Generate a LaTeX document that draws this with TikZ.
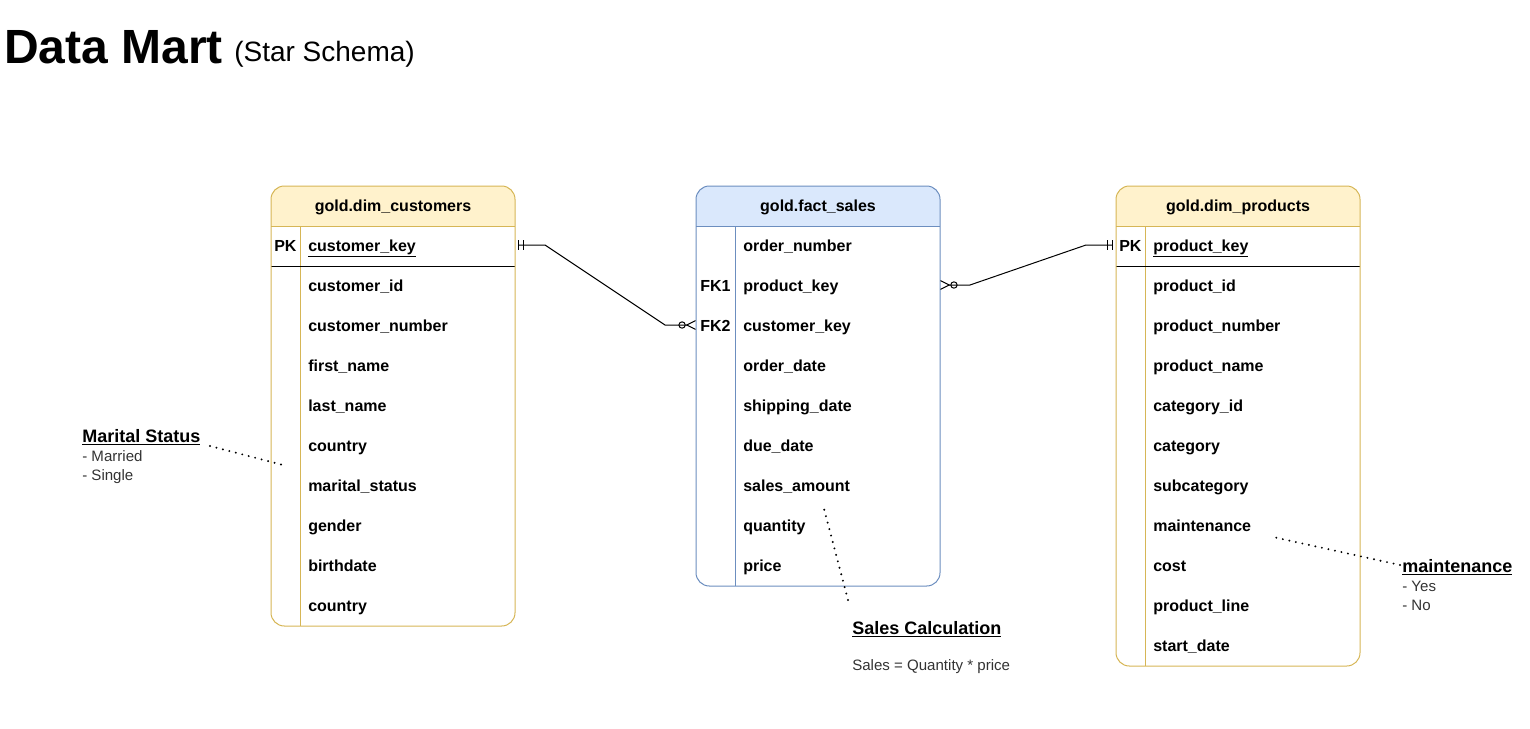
\documentclass[tikz,border=0pt]{standalone}
\usepackage{fontspec}
\setmainfont{Liberation Sans}
\usetikzlibrary{arrows.meta,calc}

\definecolor{dimfill}{HTML}{FFF2CC}
\definecolor{dimline}{HTML}{D6B656}
\definecolor{factfill}{HTML}{DAE8FC}
\definecolor{factline}{HTML}{6C8EBF}

\begin{document}
\begin{tikzpicture}[x=0.75pt, y=-0.75pt,
  fld/.style={anchor=base west, inner sep=0pt, font=\fontsize{12}{14}\selectfont\bfseries},
  hdr/.style={anchor=base, inner sep=0pt, font=\fontsize{12}{14}\selectfont\bfseries},
  notehead/.style={anchor=base west, inner sep=0pt, font=\fontsize{13.5}{16}\selectfont\bfseries},
  notetext/.style={anchor=base west, inner sep=0pt, font=\fontsize{11.3}{14}\selectfont, text=black!80},
  rel/.style={line width=0.75pt},
  notelink/.style={line width=1.6pt, line cap=round, dash pattern=on 0pt off 5pt}]
\useasboundingbox (0,0) rectangle (1530,728);

% title
\node[anchor=base west, inner sep=0pt, font=\fontsize{36}{40}\selectfont\bfseries] (title) at (4,63) {Data Mart};
\node[anchor=base west, inner sep=0pt, font=\fontsize{21}{24}\selectfont] (subtitle) at (234,61) {(Star Schema)};

% gold.dim_customers
\begin{scope}
\clip[rounded corners=10] (271,186) rectangle (515,626);
\fill[dimfill] (271,186) rectangle (515,226);
\end{scope}
\draw[dimline, line width=0.75pt] (271,226) -- (515,226);
\draw[dimline, line width=0.75pt] (300,226) -- (300,626);
\draw[black, line width=0.75pt] (271,266) -- (515,266);
\draw[dimline, line width=0.75pt, rounded corners=10] (271,186) rectangle (515,626);
\node[hdr] (custhead) at (393,211) {gold.dim\_customers};
\node[fld] (custpk) at (274,251) {PK};
\node[fld] (cust1) at (308,251) {\underline{customer\_key}};
\node[fld] (cust2) at (308,291) {customer\_id};
\node[fld] (cust3) at (308,331) {customer\_number};
\node[fld] (cust4) at (308,371) {first\_name};
\node[fld] (cust5) at (308,411) {last\_name};
\node[fld] (cust6) at (308,451) {country};
\node[fld] (cust7) at (308,491) {marital\_status};
\node[fld] (cust8) at (308,531) {gender};
\node[fld] (cust9) at (308,571) {birthdate};
\node[fld] (cust10) at (308,611) {country};
\coordinate (custport) at (515,245);

% gold.fact_sales
\begin{scope}
\clip[rounded corners=10] (696,186) rectangle (940,586);
\fill[factfill] (696,186) rectangle (940,226);
\end{scope}
\draw[factline, line width=0.75pt] (696,226) -- (940,226);
\draw[factline, line width=0.75pt] (735,226) -- (735,586);
\draw[factline, line width=0.75pt, rounded corners=10] (696,186) rectangle (940,586);
\node[hdr] (facthead) at (818,211) {gold.fact\_sales};
\node[fld] (factfk1) at (700,291) {FK1};
\node[fld] (factfk2) at (700,331) {FK2};
\node[fld] (fact1) at (743,251) {order\_number};
\node[fld] (fact2) at (743,291) {product\_key};
\node[fld] (fact3) at (743,331) {customer\_key};
\node[fld] (fact4) at (743,371) {order\_date};
\node[fld] (fact5) at (743,411) {shipping\_date};
\node[fld] (fact6) at (743,451) {due\_date};
\node[fld] (fact7) at (743,491) {sales\_amount};
\node[fld] (fact8) at (743,531) {quantity};
\node[fld] (fact9) at (743,571) {price};
\coordinate (factcust) at (696,325);
\coordinate (factprod) at (940,285);

% gold.dim_products
\begin{scope}
\clip[rounded corners=10] (1116,186) rectangle (1360,666);
\fill[dimfill] (1116,186) rectangle (1360,226);
\end{scope}
\draw[dimline, line width=0.75pt] (1116,226) -- (1360,226);
\draw[dimline, line width=0.75pt] (1145,226) -- (1145,666);
\draw[black, line width=0.75pt] (1116,266) -- (1360,266);
\draw[dimline, line width=0.75pt, rounded corners=10] (1116,186) rectangle (1360,666);
\node[hdr] (prodhead) at (1238,211) {gold.dim\_products};
\node[fld] (prodpk) at (1119,251) {PK};
\node[fld] (prod1) at (1153,251) {\underline{product\_key}};
\node[fld] (prod2) at (1153,291) {product\_id};
\node[fld] (prod3) at (1153,331) {product\_number};
\node[fld] (prod4) at (1153,371) {product\_name};
\node[fld] (prod5) at (1153,411) {category\_id};
\node[fld] (prod6) at (1153,451) {category};
\node[fld] (prod7) at (1153,491) {subcategory};
\node[fld] (prod8) at (1153,531) {maintenance};
\node[fld] (prod9) at (1153,571) {cost};
\node[fld] (prod10) at (1153,611) {product\_line};
\node[fld] (prod11) at (1153,651) {start\_date};
\coordinate (prodport) at (1116,245);

% relationships
\draw[rel, {Bar[width=7pt,sep=2.6pt]Bar[width=7pt,sep=2.6pt]}-{Circle[open,length=5.5pt,sep=0pt]Straight Barb[reversed,length=6.5pt,width=6.5pt]}]
  (custport) -- ++(30,0) -- ($(factcust)+(-31,0)$) -- (factcust);
\draw[rel, {Bar[width=7pt,sep=2.6pt]Bar[width=7pt,sep=2.6pt]}-{Circle[open,length=5.5pt,sep=0pt]Straight Barb[reversed,length=6.5pt,width=6.5pt]}]
  (prodport) -- ++(-30,0) -- ($(factprod)+(30,0)$) -- (factprod);

% notes
\node[notehead] (marital) at (82,442) {\underline{Marital Status}};
\node[notetext] (marital1) at (82,461) {- Married};
\node[notetext] (marital2) at (82,480) {- Single};
\coordinate (maritalend) at (283,465);
\draw[notelink] (210,446) -- (maritalend);

\node[notehead] (salescalc) at (852,634) {\underline{Sales Calculation}};
\node[notetext] (salesformula) at (852,670) {Sales = Quantity * price};
\coordinate (salesend) at (823,505);
\draw[notelink] (848,600) -- (salesend);

\node[notehead] (maint) at (1402,572) {\underline{maintenance}};
\node[notetext] (maint1) at (1402,591) {- Yes};
\node[notetext] (maint2) at (1402,610) {- No};
\coordinate (maintend) at (1273,537);
\draw[notelink] (1400,565) -- (maintend);
\end{tikzpicture}
\end{document}
